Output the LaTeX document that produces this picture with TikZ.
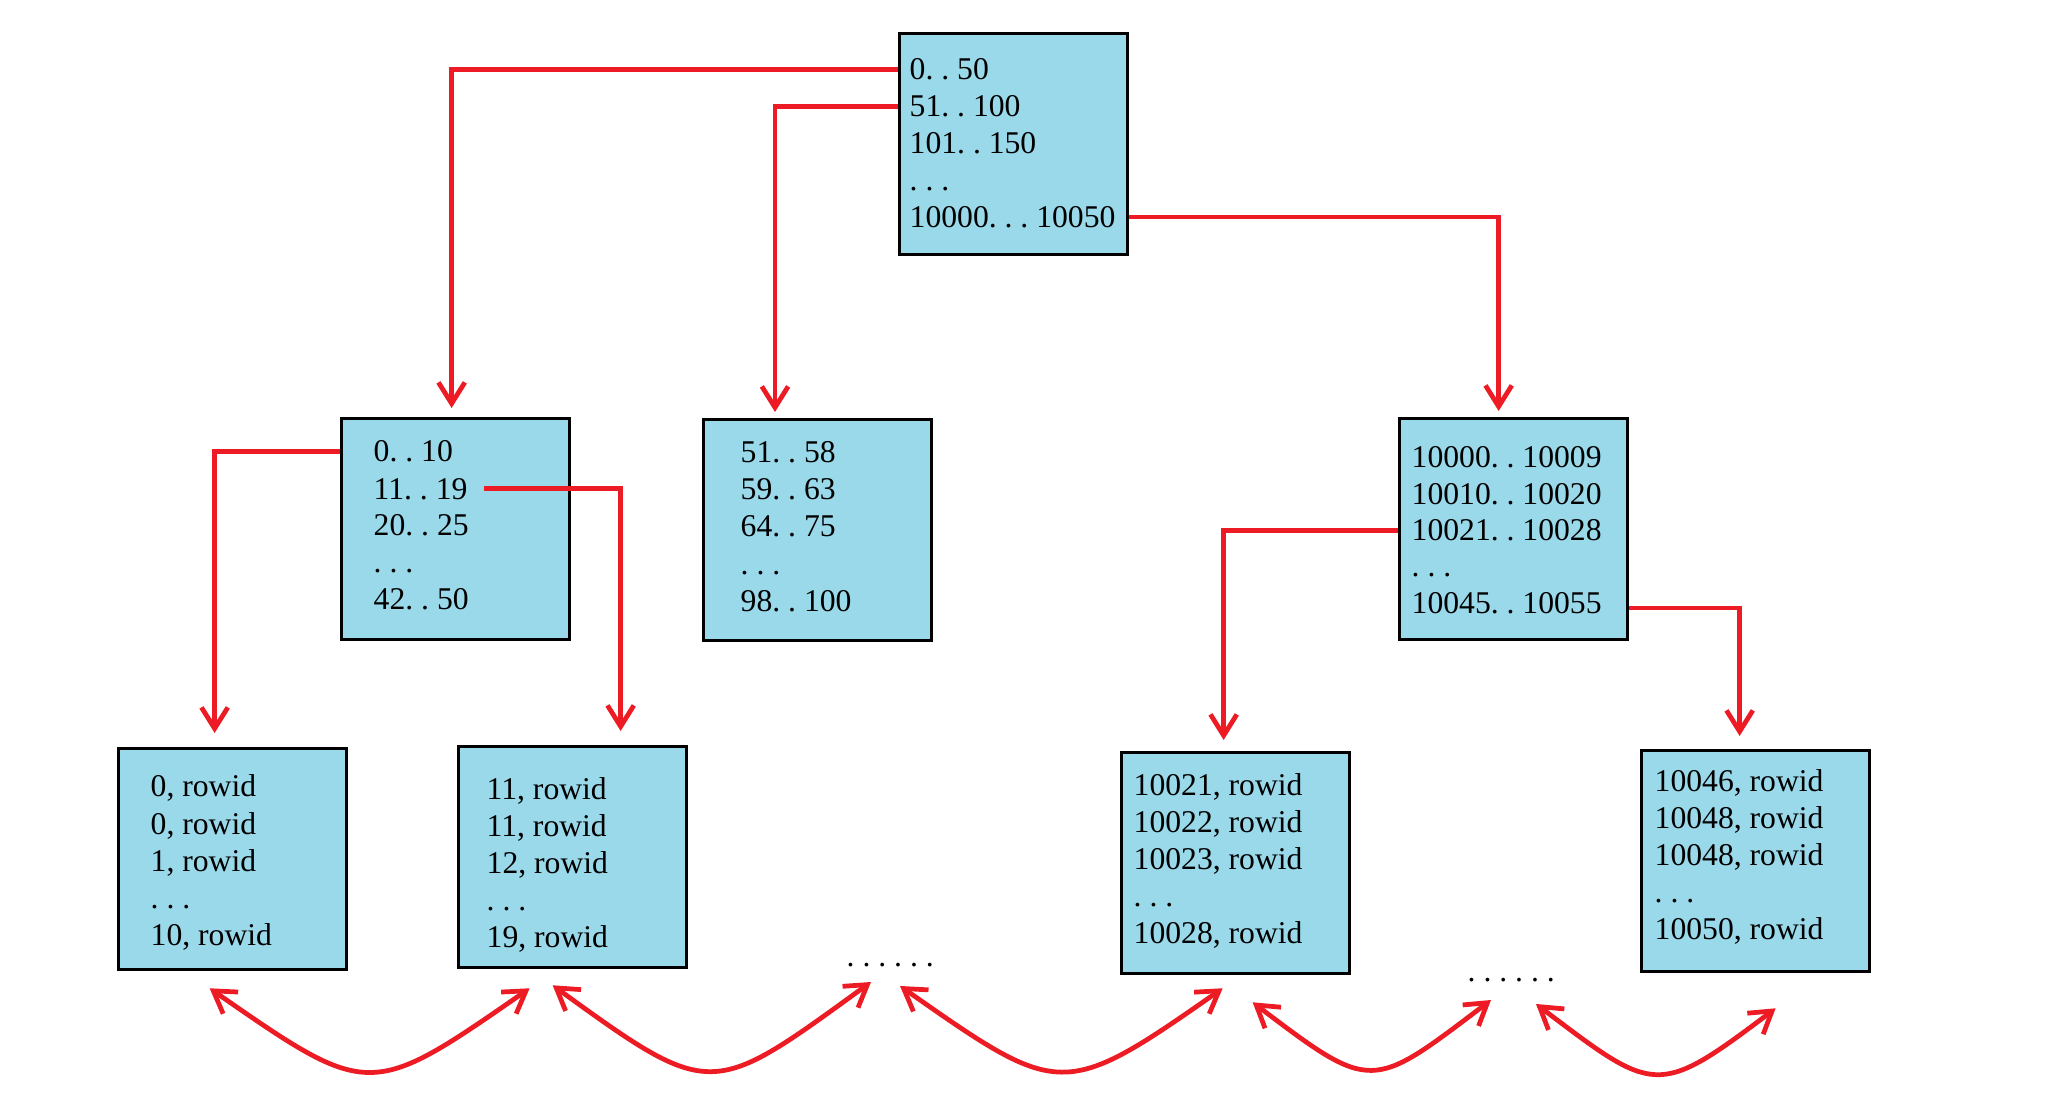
\documentclass[tikz,border=0pt]{standalone}
\usepackage{fontspec}
\setmainfont{Liberation Serif}
\usetikzlibrary{arrows.meta,calc}
\definecolor{boxfill}{RGB}{153,217,234}
\definecolor{pred}{RGB}{237,28,36}
\newcommand\dt{\makebox[0.5em][l]{.}}
\newcommand\cma{\makebox[0.5em][l]{,}}
\newcommand\mklines[5]{\foreach \t [count=\i] in {#5} {\node[ln] (#1\i) at ($(#2.north west)+(#3)+(0,{(\i-1)*#4})$) {\t};}}
\begin{document}
\begin{tikzpicture}[x=0.01cm,y=-0.01cm,
  blk/.style={draw=black, line width=0.9pt, fill=boxfill, minimum width=2.28cm, minimum height=2.21cm, inner sep=0pt, anchor=north west},
  ln/.style={anchor=base west, inner sep=0pt, font=\fontsize{9}{11}\selectfont},
  conn/.style={draw=pred, line width=1.35pt, -{Straight Barb[length=6pt,width=7.5pt]}},
  dbl/.style={draw=pred, line width=1.35pt, {Straight Barb[length=6pt,width=7.5pt]}-{Straight Barb[length=6pt,width=7.5pt]}}]
\useasboundingbox[fill=white] (0,0) rectangle (2047,1094);
% boxes
\node[blk] (root) at (898,32) {};
\node[blk] (ma) at (340,417) {};
\node[blk] (mb) at (702,418) {};
\node[blk] (mc) at (1398,417) {};
\node[blk] (la) at (117,747) {};
\node[blk] (lb) at (457,745) {};
\node[blk] (lc) at (1120,751) {};
\node[blk] (ld) at (1640,749) {};
% texts
\mklines{r}{root}{11,48}{36.8}{0\dt\dt 50, 51\dt\dt 100, 101\dt\dt 150, \dt\dt\dt, 10000\dt\dt\dt 10050}
\mklines{ta}{ma}{33,45}{37}{0\dt\dt 10, 11\dt\dt 19, 20\dt\dt 25, \dt\dt\dt, 42\dt\dt 50}
\mklines{tb}{mb}{38,45}{37}{51\dt\dt 58, 59\dt\dt 63, 64\dt\dt 75, \dt\dt\dt, 98\dt\dt 100}
\mklines{tc}{mc}{13,51}{36.3}{10000\dt\dt 10009, 10010\dt\dt 10020, 10021\dt\dt 10028, \dt\dt\dt, 10045\dt\dt 10055}
\mklines{ua}{la}{33,50}{37.2}{0\cma rowid, 0\cma rowid, 1\cma rowid, \dt\dt\dt, 10\cma rowid}
\mklines{ub}{lb}{29,54}{37}{11\cma rowid, 11\cma rowid, 12\cma rowid, \dt\dt\dt, 19\cma rowid}
\mklines{uc}{lc}{13,44}{37}{10021\cma rowid, 10022\cma rowid, 10023\cma rowid, \dt\dt\dt, 10028\cma rowid}
\mklines{ud}{ld}{14,42}{37}{10046\cma rowid, 10048\cma rowid, 10048\cma rowid, \dt\dt\dt, 10050\cma rowid}
\node[ln] (dotsa) at (846,966) {\dt\dt\dt\dt\dt\dt};
\node[ln] (dotsb) at (1467,981) {\dt\dt\dt\dt\dt\dt};
% tree connectors
\draw[conn, shorten >=0.09cm] (root.west |- r1) -| ($(ma.north)+(-4,0)$);
\draw[conn, shorten >=0.06cm] (root.west |- r2) -| ($(mb.north west)+(73,0)$);
\draw[conn, shorten >=0.06cm] (root.east |- r5) -| ($(mc.north)+(-15,0)$);
\draw[conn, shorten >=0.14cm] (ma.west |- ta1) -| ($(la.north)+(-18,0)$);
\draw[conn, shorten >=0.14cm] ($(ta2.east)+(16,0)$) -| ($(lb.north)+(48,0)$);
\draw[conn, shorten >=0.11cm] (mc.west |- tc3) -| ($(lc.north)+(-12,0)$);
\draw[conn, shorten >=0.13cm] ($(mc.east |- tc5)+(0,5)$) -| ($(ld.north)+(-16,0)$);
% leaf links
\draw[dbl] ($(la.south)+(-23,17)$) .. controls +(160,111) and +(-160,111) .. ($(lb.south)+(-43,19)$);
\draw[dbl] ($(lb.south)+(-20,16)$) .. controls +(160,116) and +(-160,116) .. ($(dotsa.base west)+(25,16)$);
\draw[dbl] ($(dotsa.base west)+(54,20)$) .. controls +(160,112) and +(-160,112) .. ($(lc.south)+(-13,13)$);
\draw[dbl] ($(lc.south)+(17,27)$) .. controls +(120,91) and +(-120,91) .. ($(dotsb.base west)+(24,19)$);
\draw[dbl] ($(dotsb.base west)+(69,23)$) .. controls +(119,90) and +(-119,90) .. ($(ld.south)+(20,35)$);
\end{tikzpicture}
\end{document}
